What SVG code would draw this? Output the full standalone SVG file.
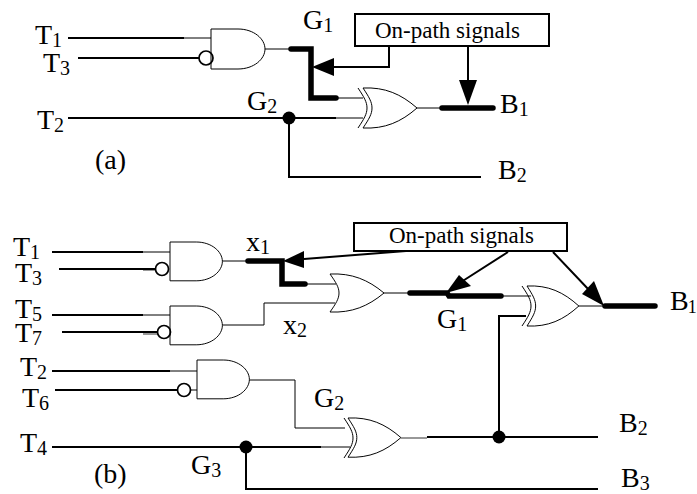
<svg xmlns="http://www.w3.org/2000/svg" width="697" height="494" viewBox="0 0 697 494">
<style>
text{font-family:"Liberation Serif","Times New Roman",serif;font-size:28px;fill:#000}
.s{font-size:20px}
.l{font-size:23px}
.g{fill:#fff;stroke:#000;stroke-width:1}
.n{fill:none;stroke:#000;stroke-width:1}
.w{fill:none;stroke:#000;stroke-width:2}
.t{fill:none;stroke:#000;stroke-width:5.5;stroke-linecap:round;stroke-linejoin:miter}
.o{fill:none;stroke:#000;stroke-width:1.7}
.box{fill:#fff;stroke:#000;stroke-width:2}
.gr{fill:none;stroke:#777;stroke-width:1.5}
</style>
<defs>
<path id="and" d="M0 0H27C43 0 54 10 54 20C54 30 43 40 27 40H0Z"/>
<path id="xor" d="M0 0C22 -1 38 6 54 20C38 34 22 41 0 40C6 31 9 26 9 20C9 14 6 9 0 0Z"/>
<path id="xorb" d="M0 0C6 9 9 14 9 20C9 26 6 31 0 40"/>
</defs>
<g id="connectors">
<path class="n" d="M184 38H211M265 49H290M337 98H363M336 118H363M417 108H441"/>
<path class="w" d="M68 38H184M78 58H199M68 118H336M289 118V177H481"/>
<path class="t" d="M291 49H311V98H336M442 108H493"/>
<path class="w" d="M389 46V67H330M468 46V82"/>
<polygon points="312,67 334,58 334,76"/>
<polygon points="468,105 459,80 477,80"/>
<path class="n" d="M143 252H170M222 261H247M305 284H336M143 315H170M222 325H264V303H335M170 371H197M191 390H197M249 380H295V428H345M321 447H350M383 293H408M501 296H531M578 306H604"/>
<path class="gr" d="M143 270H156M143 334H158M401 438H427M143 371H170"/>
<path class="w" d="M52 252H143M59 269H156M52 315H143M62 332H158M52 371H170M55 390H178M52 447H321M246 447V489H598M427 437H598M499 437V316H526"/>
<path class="t" d="M248 261H282V284H305M410 293H447L449 296H501M605 306H655"/>
<path class="w" d="M304 259L406 251M508 252L458 284M553 252L590 291"/>
<polygon points="283,261 304,251 304,268"/>
<polygon points="446,293 459,275 471,286"/>
<polygon points="604,306 582,294 594,281"/>
<circle cx="289" cy="118" r="6.5"/>
<circle cx="246" cy="447" r="6.5"/>
<circle cx="499" cy="437" r="6.5"/>
</g>
<g id="and-a1"><use href="#and" class="g" transform="translate(211 29)"/><circle class="o" cx="206" cy="58" r="7"/></g>
<g id="xor-a"><use href="#xorb" class="n" transform="translate(358 88)"/><use href="#xor" class="g" transform="translate(363 88)"/></g>
<g id="box-a"><rect class="box" x="355" y="14" width="194" height="32"/><text class="l" x="375" y="38">On-path signals</text></g>
<g id="and-b1"><use href="#and" class="g" transform="translate(170 242) scale(.97)"/><circle class="o" cx="162" cy="269" r="6.5"/></g>
<g id="and-b2"><use href="#and" class="g" transform="translate(170 306) scale(.97)"/><circle class="o" cx="164" cy="332" r="6.5"/></g>
<g id="and-b3"><use href="#and" class="g" transform="translate(197 360) scale(.97)"/><circle class="o" cx="184" cy="390" r="6.5"/></g>
<g id="or-b"><use href="#xor" class="g" transform="translate(330 274) scale(1 .95)"/></g>
<g id="xor-b1"><use href="#xorb" class="n" transform="translate(522 286)"/><use href="#xor" class="g" transform="translate(527 286) scale(.96 1)"/></g>
<g id="xor-b2"><use href="#xorb" class="n" transform="translate(344 418)"/><use href="#xor" class="g" transform="translate(348 418) scale(.98 .98)"/></g>
<g id="box-b"><rect class="box" x="354" y="223" width="213" height="28"/><text class="l" x="389" y="243">On-path signals</text></g>
<g id="labels">
<text x="35" y="44">T<tspan class="s" dy="3">1</tspan></text>
<text x="43" y="72">T<tspan class="s" dy="3">3</tspan></text>
<text x="37" y="129">T<tspan class="s" dy="3">2</tspan></text>
<text x="95" y="169">(a)</text>
<text x="247" y="110">G<tspan class="s" dy="3">2</tspan></text>
<text x="303" y="29">G<tspan class="s" dy="3">1</tspan></text>
<text x="500" y="113">B<tspan class="s" dy="3">1</tspan></text>
<text x="498" y="179">B<tspan class="s" dy="3">2</tspan></text>
<text x="13" y="256">T<tspan class="s" dy="3">1</tspan></text>
<text x="15" y="282">T<tspan class="s" dy="3">3</tspan></text>
<text x="15" y="318">T<tspan class="s" dy="3">5</tspan></text>
<text x="15" y="342">T<tspan class="s" dy="3">7</tspan></text>
<text x="20" y="376">T<tspan class="s" dy="3">2</tspan></text>
<text x="22" y="407">T<tspan class="s" dy="3">6</tspan></text>
<text x="20" y="452">T<tspan class="s" dy="3">4</tspan></text>
<text x="94" y="483">(b)</text>
<text x="191" y="474">G<tspan class="s" dy="3">3</tspan></text>
<text x="314" y="407">G<tspan class="s" dy="3">2</tspan></text>
<text x="246" y="251">x<tspan class="s" dy="3">1</tspan></text>
<text x="283" y="334">x<tspan class="s" dy="3">2</tspan></text>
<text x="437" y="328">G<tspan class="s" dy="3">1</tspan></text>
<text x="670" y="310">B<tspan class="s" dy="3" dx="-1" style="font-size:18px">1</tspan></text>
<text x="619" y="432">B<tspan class="s" dy="3">2</tspan></text>
<text x="621" y="487">B<tspan class="s" dy="3">3</tspan></text>
</g>
</svg>
